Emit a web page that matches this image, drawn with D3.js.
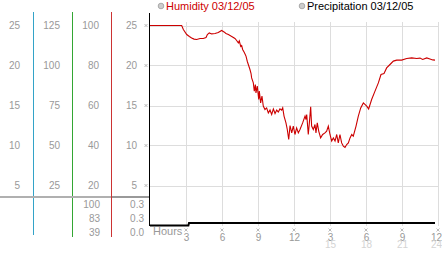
<!DOCTYPE html>
<html>
<head>
<meta charset="utf-8">
<script src="https://cdn.jsdelivr.net/npm/d3@7"></script>
<style>
    body { margin: 0; background: #fff; }
    svg { display: block; font-family: "Liberation Sans", Arial, sans-serif; }
    .lbl { fill: #999; font-size: 10px; }
</style>
</head>
<body>
<svg width="442" height="253"></svg>
<script>
// Humidity readings (hours since midnight, percent)
const humHours = [0, 0.5, 1, 1.5, 2, 2.64, 2.78, 3.06, 3.28, 3.47,
    3.67, 3.89, 4.17, 4.44, 4.67, 4.78, 4.94, 5.14, 5.42, 5.69,
    5.97, 6.17, 6.33, 6.53, 6.81, 7.08, 7.22, 7.36, 7.44, 7.56,
    7.64, 7.72, 7.86, 8.0, 8.11, 8.22, 8.33, 8.42, 8.47, 8.61,
    8.69, 8.78, 8.83, 8.94, 9.06, 9.11, 9.22, 9.33, 9.44, 9.58,
    9.72, 9.86, 10.0, 10.14, 10.28, 10.42, 10.56, 10.69, 10.83, 10.97,
    11.06, 11.17, 11.33, 11.44, 11.56, 11.67, 11.81, 11.94, 12.08, 12.22,
    12.36, 12.5, 12.72, 12.92, 13.0, 13.06, 13.19, 13.28, 13.39, 13.47,
    13.61, 13.75, 13.83, 13.94, 14.06, 14.22, 14.39, 14.58, 14.72, 14.86,
    15.0, 15.14, 15.28, 15.42, 15.56, 15.69, 15.83, 15.97, 16.11, 16.25,
    16.39, 16.53, 16.67, 16.81, 16.94, 17.17, 17.36, 17.56, 17.78, 18.06,
    18.22, 18.47, 18.75, 19.03, 19.25, 19.5, 19.72, 20.0, 20.28, 20.56,
    20.97, 21.39, 21.81, 22.22, 22.5, 22.72, 23.06, 23.33, 23.56, 23.75];
const humidity = [100, 100, 100, 100, 100, 100, 98, 95.5, 94.5, 93.8,
    93.2, 93, 93.5, 93.5, 94, 95.5, 96.3, 95.8, 96, 96.5,
    97.5, 96.8, 96, 95.5, 94.5, 93.5, 92.5, 91.3, 92.3, 89.5,
    90, 88, 86.5, 84.7, 82, 80, 78, 76, 73.8, 71.3,
    67.2, 70.5, 66.3, 69.7, 63, 67.2, 61.3, 64.7, 59.7, 58,
    58.8, 56.3, 57.7, 55.5, 58.3, 56, 57.7, 56.7, 58.3, 57.7,
    58.8, 54.7, 51.3, 48, 43, 50, 46.3, 49.7, 45.5, 48.8,
    46.3, 48, 51.3, 54.7, 53, 55.5, 45.5, 51.3, 59.3, 49.7,
    48, 50.5, 46.3, 51.3, 47.2, 43.8, 45.5, 46.3, 47.2, 49.7,
    45.5, 42.2, 43.8, 42.2, 45.5, 41.3, 45.5, 41.3, 39.7, 39,
    40.5, 41.3, 43.8, 45.5, 44.7, 49.7, 54.7, 58.8, 61.3, 59.7,
    58.3, 63, 67.2, 71.3, 75.5, 76, 78.8, 80.5, 82.2, 82.7,
    82.7, 83.5, 83.8, 83.5, 83.7, 83, 83.8, 83.3, 82.8, 82.7];

// Precipitation (cumulative)
const precipHours = [0, 3.2, 3.25, 23.75];
const precip = [0, 0, 0.3, 0.3];

// Left side scale columns
const colPrecip = [25, 20, 15, 10, 5];
const colOther = [125, 100, 75, 50, 25];
const colHum = [100, 80, 60, 40, 20];
const colPlot = [25, 20, 15, 10, 5];

// Stats table under the columns
const humStats = ["100", "83", "39"];
const precipStats = ["0.3", "0.3", "0.0"];

const hourTicks = [3, 6, 9, 12, 15, 18, 21, 24];
const legendItems = [
    { name: "Humidity 03/12/05", color: "#cc0000", x: 161 },
    { name: "Precipitation 03/12/05", color: "#000", x: 302 }
];

const svg = d3.select("svg");

// Scales
const x = d3.scaleLinear().domain([0, 24]).range([150, 438]);
const yHum = d3.scaleLinear().domain([0, 100]).range([225.5, 25.5]);
const y25 = d3.scaleLinear().domain([0, 25]).range([225.5, 25.5]);
const y125 = d3.scaleLinear().domain([0, 125]).range([225.5, 25.5]);

// Grid
svg.append("g").selectAll("line")
    .data(hourTicks)
    .join("line")
    .attr("x1", d => Math.round(x(d)) + 0.5)
    .attr("x2", d => Math.round(x(d)) + 0.5)
    .attr("y1", 22)
    .attr("y2", 226)
    .attr("stroke", "#ddd");
svg.append("g").selectAll("line")
    .data(colHum)
    .join("line")
    .attr("x1", 150)
    .attr("x2", 439)
    .attr("y1", d => Math.round(yHum(d)) + 0.5)
    .attr("y2", d => Math.round(yHum(d)) + 0.5)
    .attr("stroke", "#ddd");

// Column separators
const seps = [{ x: 33.5, color: "#33a3c8", y2: 235 }, { x: 72.5, color: "#33a633", y2: 237 }, { x: 111.5, color: "#cc3333", y2: 237 }];
svg.append("g").selectAll("line")
    .data(seps)
    .join("line")
    .attr("x1", d => d.x).attr("x2", d => d.x)
    .attr("y1", 12).attr("y2", d => d.y2)
    .attr("stroke", d => d.color);

// Gray rule above the table
svg.append("rect").attr("x", 0).attr("y", 196).attr("width", 111).attr("height", 2).attr("fill", "#b0b0b0");
svg.append("rect").attr("x", 112).attr("y", 196).attr("width", 38).attr("height", 2).attr("fill", "#999");

// Left label columns drawn with axes
const addColumn = (scale, values, right) => {
    const g = svg.append("g")
        .attr("transform", `translate(${right},0)`)
        .call(d3.axisLeft(scale).tickValues(values).tickSize(0).tickPadding(0));
    g.select(".domain").remove();
    g.selectAll("text").attr("class", "lbl").attr("fill", null).style("font-size", "10px").style("font-family", null);
};
addColumn(y25, colPrecip, 20);
addColumn(y125, colOther, 60);
addColumn(yHum, colHum, 99);
addColumn(y25, colPlot, 137);

// Small tick markers
const marker = (g, cx, cy) => {
    g.append("path")
        .attr("d", `M${cx - 1.5},${cy - 1.5}L${cx + 1.5},${cy + 1.5}M${cx + 1.5},${cy - 1.5}L${cx - 1.5},${cy + 1.5}`)
        .attr("stroke", "#aaa").attr("stroke-width", 0.8);
};
const marks = svg.append("g");
colPlot.forEach(v => marker(marks, 146, y25(v)));
hourTicks.forEach(h => marker(marks, x(h), 230));

// Stats table
const rowY = [204, 218.5, 232.5];
svg.append("g").selectAll("text")
    .data(humStats)
    .join("text")
    .attr("class", "lbl")
    .attr("x", 100).attr("y", (d, i) => rowY[i])
    .attr("dy", "0.35em").attr("text-anchor", "end")
    .text(d => d);
svg.append("g").selectAll("text")
    .data(precipStats)
    .join("text")
    .attr("class", "lbl")
    .attr("x", 144).attr("y", (d, i) => rowY[i])
    .attr("dy", "0.35em").attr("text-anchor", "end")
    .text(d => d);

// Hour axis: 12h labels, then 24h labels for the afternoon
const styleAxis = (g, color) => {
    g.select(".domain").remove();
    g.selectAll("text").attr("fill", color).style("font-size", "10px").style("font-family", null);
    // keep the last label inside the picture
    g.selectAll(".tick").filter(d => d === 24).select("text").attr("x", -2);
};
const hourAxis = svg.append("g")
    .attr("transform", "translate(0,234)")
    .call(d3.axisBottom(x).tickValues(hourTicks).tickSize(0).tickPadding(0)
        .tickFormat(h => h % 12 === 0 ? 12 : h % 12));
styleAxis(hourAxis, "#999");
const dayAxis = svg.append("g")
    .attr("transform", "translate(0,241)")
    .call(d3.axisBottom(x).tickValues(hourTicks).tickSize(0).tickPadding(0)
        .tickFormat(h => h > 12 ? h : ""));
styleAxis(dayAxis, "#d4d4d4");
svg.append("text").attr("x", 153).attr("y", 235).attr("fill", "#999")
    .style("font-size", "11px").text("Hours");

// Plot left axis
svg.append("line").attr("x1", 149.5).attr("x2", 149.5).attr("y1", 13).attr("y2", 226).attr("stroke", "#000");

// Series
const humLine = d3.line().x((d, i) => x(humHours[i])).y(d => yHum(d));
svg.append("path")
    .attr("d", humLine(humidity))
    .attr("fill", "none")
    .attr("stroke", "#cc0000")
    .attr("stroke-width", 1.1);

const precipLine = d3.line().x((d, i) => x(precipHours[i])).y(d => y25(d));
svg.append("path")
    .attr("d", precipLine(precip))
    .attr("fill", "none")
    .attr("stroke", "#000")
    .attr("stroke-width", 2);

// Legend
const legend = svg.append("g").selectAll("g")
    .data(legendItems)
    .join("g");
legend.append("circle")
    .attr("cx", d => d.x).attr("cy", 6).attr("r", 2.8)
    .attr("fill", "#ccc").attr("stroke", "#aaa");
legend.append("text")
    .attr("x", d => d.x + 5).attr("y", 10)
    .attr("fill", d => d.color)
    .style("font-size", "11px")
    .text(d => d.name);
</script>
</body>
</html>
